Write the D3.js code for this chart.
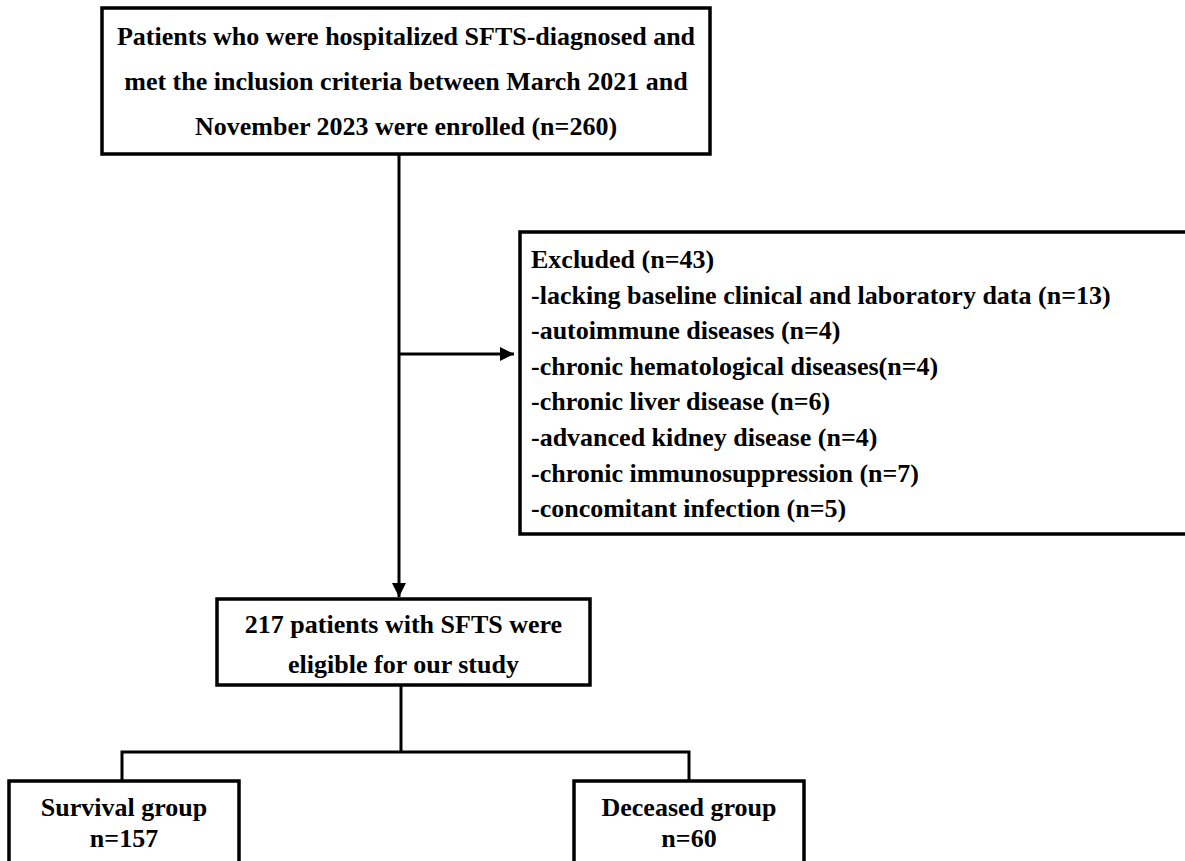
<!DOCTYPE html>
<meta charset="utf-8">
<style>
 body { margin: 0; background: #fff; }
 svg text {
     font-family: "Liberation Serif", "Times New Roman", serif;
     font-weight: bold;
     font-size: 26px;
     fill: #000;
 }
 .box { fill: #fff; stroke: #000; stroke-width: 3.5; }
 .link { fill: none; stroke: #000; stroke-width: 3; }
</style>
<body>
<svg width="1185" height="861"></svg>
<script src="https://d3js.org/d3.v7.min.js"></script>
<script>

 // texts of the flowchart
 var enrolledLines = [
     "Patients who were hospitalized SFTS-diagnosed and",
     "met the inclusion criteria between March 2021 and",
     "November 2023 were enrolled (n=260)"
 ];
 var excludedLines = [
     "Excluded (n=43)",
     "-lacking baseline clinical and laboratory data (n=13)",
     "-autoimmune diseases (n=4)",
     "-chronic hematological diseases(n=4)",
     "-chronic liver disease (n=6)",
     "-advanced kidney disease (n=4)",
     "-chronic immunosuppression (n=7)",
     "-concomitant infection (n=5)"
 ];
 var eligibleLines = ["217 patients with SFTS were", "eligible for our study"];
 var groupNames = ["Survival group", "Deceased group"];
 var groupCounts = [157, 60];

 // layout (pixels)
 var boxes = {
     enrolled: {x0: 102, y0: 8, x1: 710, y1: 154, first: 45, step: 45, align: "middle"},
     excluded: {x0: 520, y0: 232, x1: 1195, y1: 534, first: 268, step: 35.6, align: "start", pad: 11},
     eligible: {x0: 217, y0: 599, x1: 590, y1: 685, first: 633, step: 40, align: "middle"},
     survival: {x0: 9, y0: 781, x1: 239, y1: 900, first: 816, step: 31, align: "middle"},
     deceased: {x0: 574, y0: 781, x1: 804, y1: 900, first: 816, step: 31, align: "middle"}
 };

 var svg = d3.select("svg");

 svg.append("defs").append("marker")
    .attr("id", "head")
    .attr("viewBox", "0 0 10 10")
    .attr("refX", 10).attr("refY", 5)
    .attr("markerUnits", "userSpaceOnUse")
    .attr("markerWidth", 17).attr("markerHeight", 14)
    .attr("orient", "auto")
    .append("path")
    .attr("d", "M0,0L10,5L0,10Z")
    .attr("fill", "#000");

 var line = d3.line();
 var mainX = 399;

 // connectors
 svg.append("path").attr("class", "link")
    .attr("d", line([[mainX, boxes.enrolled.y1], [mainX, boxes.eligible.y0 - 2]]))
    .attr("marker-end", "url(#head)");
 svg.append("path").attr("class", "link")
    .attr("d", line([[mainX, 354], [boxes.excluded.x0 - 6, 354]]))
    .attr("marker-end", "url(#head)");

 var splitY = 752;
 var midX = 401;
 var leftX = (boxes.survival.x0 + boxes.survival.x1) / 2 - 2;
 var rightX = (boxes.deceased.x0 + boxes.deceased.x1) / 2;
 svg.append("path").attr("class", "link")
    .attr("d", line([[midX, boxes.eligible.y1], [midX, splitY]]));
 svg.append("path").attr("class", "link")
    .attr("d", line([[leftX, boxes.survival.y0], [leftX, splitY], [rightX, splitY], [rightX, boxes.deceased.y0]]));

 function drawBox(b, lines) {
     svg.append("rect").attr("class", "box")
        .attr("x", b.x0).attr("y", b.y0)
        .attr("width", b.x1 - b.x0).attr("height", b.y1 - b.y0);
     var tx = b.align === "middle" ? (b.x0 + b.x1) / 2 : b.x0 + b.pad;
     svg.append("g").selectAll("text")
        .data(lines)
        .join("text")
        .attr("x", tx)
        .attr("y", function(d, i) { return b.first + i * b.step; })
        .attr("text-anchor", b.align)
        .text(function(d) { return d; });
 }

 drawBox(boxes.enrolled, enrolledLines);
 drawBox(boxes.excluded, excludedLines);
 drawBox(boxes.eligible, eligibleLines);
 drawBox(boxes.survival, [groupNames[0], "n=" + groupCounts[0]]);
 drawBox(boxes.deceased, [groupNames[1], "n=" + groupCounts[1]]);

</script>
</body>
